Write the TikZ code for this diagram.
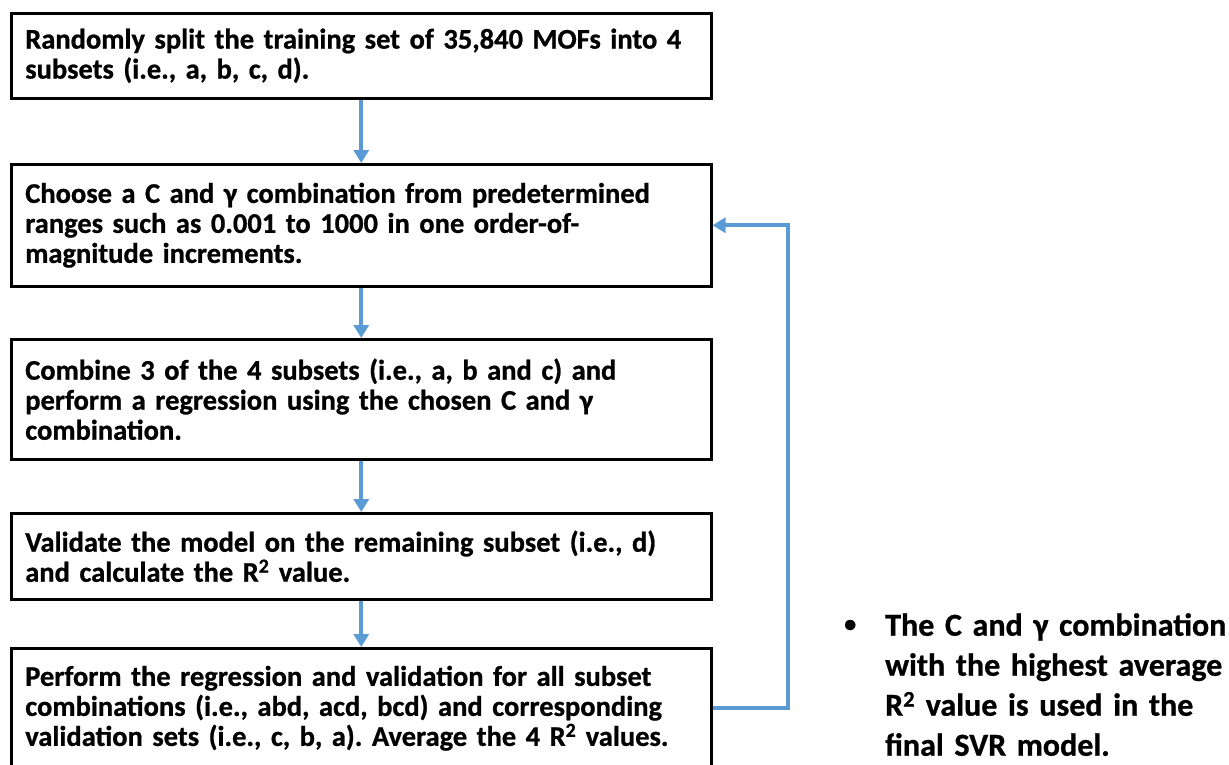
\documentclass[tikz,border=0pt]{standalone}
\usepackage{fontspec}
\setmainfont{Carlito}[BoldFeatures={FakeBold=0.8}]
\usepackage{xcolor}
\definecolor{Black}{RGB}{0,0,0}
\definecolor{White}{RGB}{255,255,255}
\definecolor{Blue}{RGB}{91,155,213}
\usetikzlibrary{arrows.meta}
\frenchspacing

\tikzset{
	stepbox/.style={draw=Black, fill=White, line width=2.5pt, anchor=north west,
		text width=672pt, inner xsep=14pt, inner ysep=0pt, align=left,
		font=\bfseries\fontsize{28.5}{30}\selectfont},
	flow/.style={draw=Blue, line width=4pt, -{Triangle[width=15pt,length=13pt]}}
}

\begin{document}
\begin{tikzpicture}[x=1pt, y=1pt]
		
		\useasboundingbox (0,0) rectangle (1229,-764);
		
		% Boxes
		\node[stepbox, minimum height=85pt]  (split)    at (10,-12)  {Randomly split the training set of 35,840 MOFs into 4\\subsets (i.e., a, b, c, d).};
		\node[stepbox, minimum height=122pt] (choose)   at (10,-163) {Choose a C and γ combination from predetermined\\ranges such as 0.001 to 1000 in one order-of-\\magnitude increments.};
		\node[stepbox, minimum height=120pt] (combine)  at (10,-338) {Combine 3 of the 4 subsets (i.e., a, b and c) and\\perform a regression using the chosen C and γ\\combination.};
		\node[stepbox, minimum height=86pt]  (validate) at (10,-512) {Validate the model on the remaining subset (i.e., d)\\and calculate the R\textsuperscript{2} value.};
		\node[stepbox, minimum height=120pt] (average)  at (10,-647) {Perform the regression and validation for all subset\\combinations (i.e., abd, acd, bcd) and corresponding\\validation sets (i.e., c, b, a). Average the 4 R\textsuperscript{2} values.};
		
		% Note
		\node[anchor=north west, text width=345pt, inner sep=0pt, align=left,
			font=\bfseries\fontsize{32}{40}\selectfont] (note) at (885,-613)
			{\llap{\raisebox{4pt}{\fontsize{24}{24}\selectfont\textbullet}\hspace{29pt}}The C and γ combination\\with the highest average\\R\textsuperscript{2} value is used in the\\final SVR model.};
		
		% Lines
		\draw[flow] (split)    -- (choose);
		\draw[flow] (choose)   -- (combine);
		\draw[flow] (combine)  -- (validate);
		\draw[flow] (validate) -- (average);
		\draw[flow] (average.east) -- ++(75,0) |- (choose.east);
		
	\end{tikzpicture}
\end{document}
